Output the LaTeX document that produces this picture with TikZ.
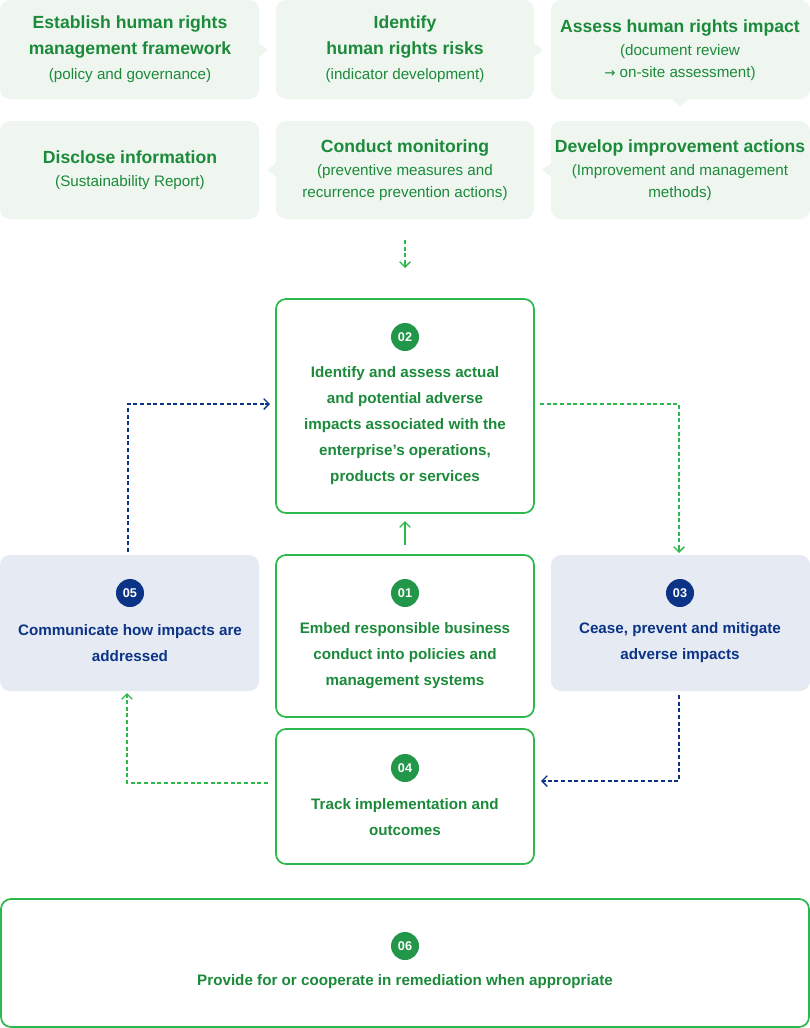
\documentclass[tikz,border=0pt]{standalone}
\usepackage{fontspec}
\setmainfont{Liberation Sans}
\usetikzlibrary{arrows.meta,calc}
\definecolor{gfill}{HTML}{EFF6F0}
\definecolor{gtext}{HTML}{1B8A3A}
\definecolor{gcirc}{HTML}{22974A}
\definecolor{gline}{HTML}{2DB84B}
\definecolor{bfill}{HTML}{E6EAF3}
\definecolor{btext}{HTML}{0B3486}
\begin{document}
\begin{tikzpicture}[x=0.75pt,y=-0.75pt,
 top/.style={fill=gfill,rounded corners=7.5pt},
 ttl/.style={text=gtext,font=\bfseries\fontsize{13.2}{19.5}\selectfont,align=center},
 sub/.style={text=gtext,font=\fontsize{11.4}{16.5}\selectfont,align=center},
 gbox/.style={draw=gline,line width=1.3pt,fill=white,rounded corners=7.5pt},
 bbox/.style={fill=bfill,rounded corners=7.5pt},
 num/.style={circle,fill=#1,text=white,minimum size=21pt,inner sep=0pt,font=\bfseries\fontsize{9.5}{10}\selectfont},
 gtx/.style={text=gtext,font=\bfseries\fontsize{11.4}{19.5}\selectfont,align=center},
 btx/.style={text=btext,font=\bfseries\fontsize{11.4}{19.5}\selectfont,align=center},
 gd/.style={draw=gline,line width=1pt,dash pattern=on 3pt off 2pt},
 bd/.style={draw=btext,line width=1pt,dash pattern=on 3pt off 2pt},
 tip/.style={draw=#1,line width=1pt,solid,-{Straight Barb[length=4pt,width=8pt]}},
]
\useasboundingbox (0,0) rectangle (810,1028);
% top boxes
\fill[top] (0,0) rectangle (259,99);
\fill[gfill] (259,43) -- (268,50) -- (259,57) -- cycle;
\fill[top] (276,0) rectangle (534,99);
\fill[gfill] (534,43) -- (543,50) -- (534,57) -- cycle;
\fill[top] (551,0) rectangle (810,99);
\fill[gfill] (672,99) -- (680,107) -- (688,99) -- cycle;
\fill[top] (0,121) rectangle (259,219);
\fill[top] (276,121) rectangle (534,219);
\fill[gfill] (276,163) -- (267,170) -- (276,177) -- cycle;
\fill[top] (551,121) rectangle (810,219);
\fill[gfill] (551,163) -- (542,170) -- (551,177) -- cycle;
\node[ttl] (t1) at (130,37) {Establish human rights\\management framework};
\node[sub] (s1) at (130,76) {(policy and governance)};
\node[ttl] (t2) at (405,37) {Identify\\human rights risks};
\node[sub] (s2) at (405,76) {(indicator development)};
\node[ttl] (t3) at (680,28) {Assess human rights impact};
\node[sub] (s3) at (680,63) {(document review\\{\fontspec{DejaVu Sans}\fontsize{10}{12}\selectfont →} on-site assessment)};
\node[ttl] (t4) at (130,157) {Disclose information};
\node[sub] (s4) at (130,183) {(Sustainability Report)};
\node[ttl] (t5) at (405,148) {Conduct monitoring};
\node[sub] (s5) at (405,183) {(preventive measures and\\recurrence prevention actions)};
\node[ttl] (t6) at (680,148) {Develop improvement actions};
\node[sub] (s6) at (680,183) {(Improvement and management\\methods)};
% main boxes
\draw[gbox] (276,299) rectangle (534,513);
\draw[gbox] (276,555) rectangle (534,717);
\draw[gbox] (276,729) rectangle (534,864);
\fill[bbox] (0,555) rectangle (259,691);
\fill[bbox] (551,555) rectangle (810,691);
\draw[gbox] (1,899) rectangle (809,1027);
\node[num=gcirc] (n2) at (405,337) {02};
\node[gtx] (b2) at (405,426) {Identify and assess actual\\and potential adverse\\impacts associated with the\\enterprise's operations,\\products or services};
\node[num=gcirc] (n1) at (405,593) {01};
\node[gtx] (b1) at (405,656) {Embed responsible business\\conduct into policies and\\management systems};
\node[num=gcirc] (n4) at (405,768) {04};
\node[gtx] (b4) at (405,817) {Track implementation and\\outcomes};
\node[num=btext] (n5) at (130,593) {05};
\node[btx] (b5) at (130,643) {Communicate how impacts are\\addressed};
\node[num=btext] (n3) at (680,593) {03};
\node[btx] (b3) at (680,643) {Cease, prevent and mitigate\\adverse impacts};
\node[num=gcirc] (n6) at (405,946) {06};
\node[gtx] (b6) at (405,982) {Provide for or cooperate in remediation when appropriate};
% connectors
\coordinate (a1) at (405,240); \coordinate (a2) at (405,268);
\draw[gd] (a1) -- ($(a2)+(0,-5)$);
\draw[tip=gline] ($(a2)+(0,-5)$) -- (a2);
\coordinate (u1) at (405,545); \coordinate (u2) at (405,521);
\draw[tip=gline] (u1) -- (u2);
\coordinate (c1) at (128,552); \coordinate (c2) at (270,404);
\draw[bd] (c1) |- ($(c2)+(-5,0)$);
\draw[tip=btext] ($(c2)+(-5,0)$) -- (c2);
\coordinate (d1) at (540,404); \coordinate (d2) at (679,553);
\draw[gd] (d1) -| ($(d2)+(0,-5)$);
\draw[tip=gline] ($(d2)+(0,-5)$) -- (d2);
\coordinate (e1) at (679,695); \coordinate (e2) at (541,781);
\draw[bd] (e1) |- ($(e2)+(5,0)$);
\draw[tip=btext] ($(e2)+(5,0)$) -- (e2);
\coordinate (f1) at (268,783); \coordinate (f2) at (127,693);
\draw[gd] (f1) -| ($(f2)+(0,5)$);
\draw[tip=gline] ($(f2)+(0,5)$) -- (f2);
\end{tikzpicture}
\end{document}
